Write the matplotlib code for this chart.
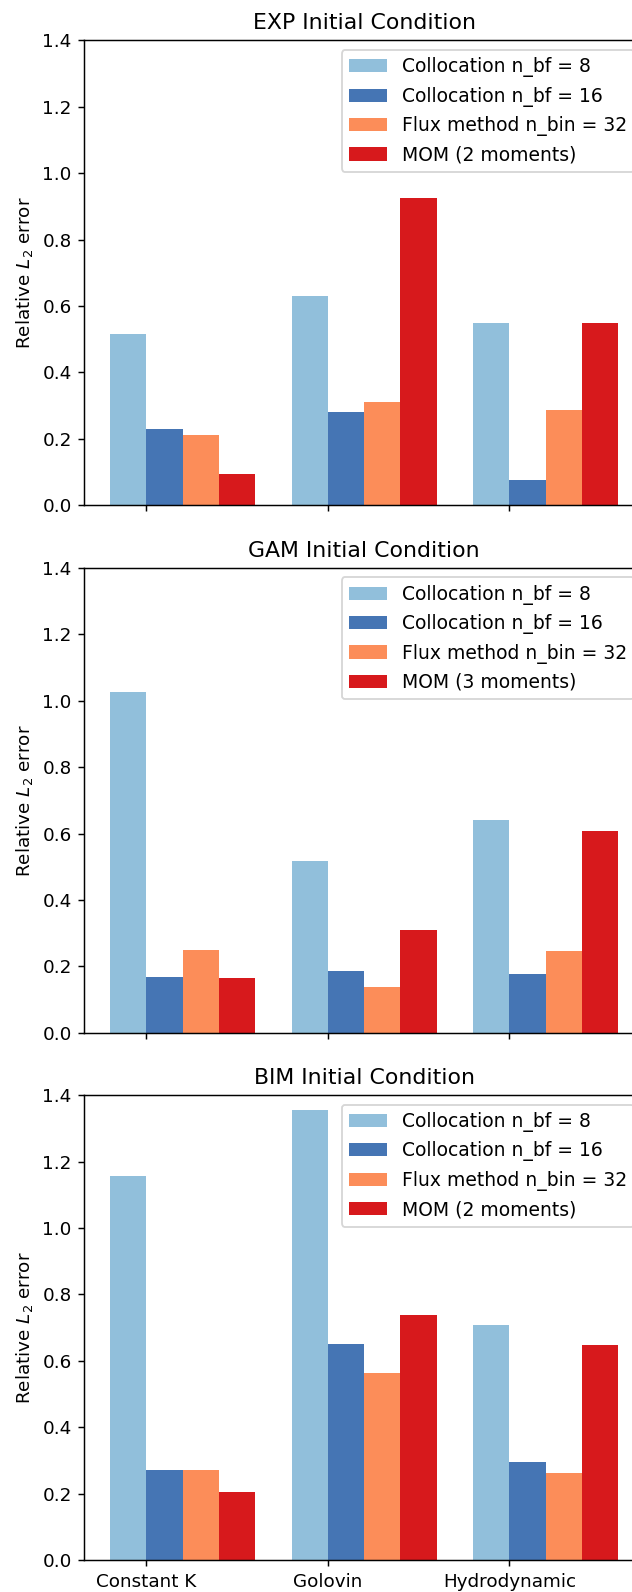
import numpy as np
import matplotlib
matplotlib.use("Agg")
import matplotlib.pyplot as plt

# kernels on the x axis
kernels = ["Constant K", "Golovin", "Hydrodynamic"]
methods = ["Collocation n_bf = 8", "Collocation n_bf = 16", "Flux method n_bin = 32"]
colors = ["#91bfdb", "#4575b4", "#fc8d59", "#d7191c"]

# relative L2 error per initial condition, rows = method
exp_err = [[0.516, 0.629, 0.549],
           [0.230, 0.282, 0.077],
           [0.213, 0.312, 0.288],
           [0.095, 0.925, 0.549]]
gam_err = [[1.026, 0.516, 0.642],
           [0.167, 0.186, 0.177],
           [0.249, 0.137, 0.246],
           [0.164, 0.309, 0.609]]
bim_err = [[1.155, 1.354, 0.707],
           [0.271, 0.650, 0.295],
           [0.271, 0.563, 0.261],
           [0.204, 0.737, 0.648]]

panels = [("EXP", exp_err, "MOM (2 moments)"),
          ("GAM", gam_err, "MOM (3 moments)"),
          ("BIM", bim_err, "MOM (2 moments)")]

DPI = 132
fig = plt.figure(figsize=(632 / DPI, 1592 / DPI), dpi=DPI)
# axes run past the right edge of the figure, as in the original crop
bottoms = [0.6826, 0.3513, 0.0201]
x = np.arange(len(kernels))
width = 0.2
for (ic, err, mom_label), b in zip(panels, bottoms):
    ax = fig.add_axes([0.1337, b, 0.885, 0.2920])
    labels = methods + [mom_label]
    for i, (vals, c, lab) in enumerate(zip(err, colors, labels)):
        ax.bar(x - 0.1 + i * width, vals, width, color=c, label=lab)
    ax.set_ylim(0, 1.4)
    ax.set_xticks(x)
    if ic == "BIM":
        ax.set_xticklabels(kernels)
    else:
        ax.set_xticklabels([])
    ax.set_ylabel("Relative $L_2$ error")
    ax.set_title(f"{ic} Initial Condition")
    ax.legend(loc="upper right", fontsize=10.25)

fig.savefig("out.png", dpi=DPI)
